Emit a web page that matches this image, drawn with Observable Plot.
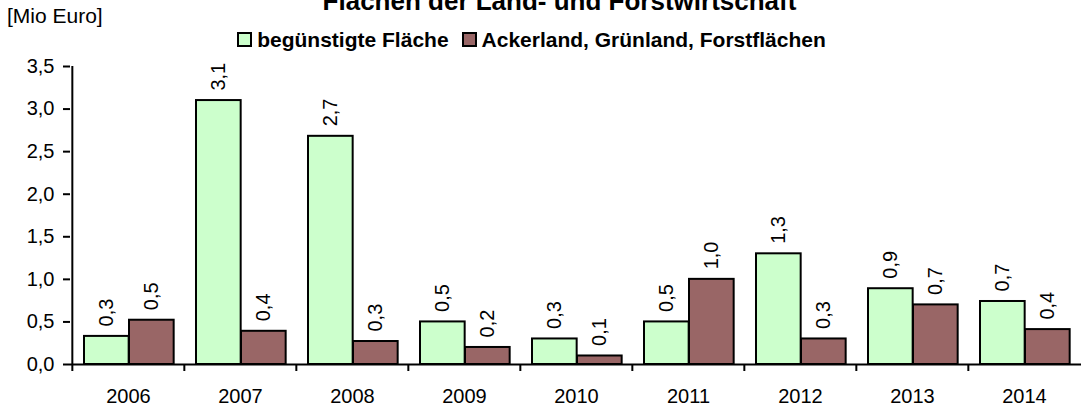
<!DOCTYPE html>
<html>
<head>
<meta charset="utf-8">
<script src="https://cdn.jsdelivr.net/npm/d3@7"></script>
<script src="https://cdn.jsdelivr.net/npm/@observablehq/plot@0.6"></script>
<style>
  html, body { margin: 0; padding: 0; background: #fff; overflow: hidden; }
  #wrap { position: relative; width: 1081px; height: 405px; font-family: "Liberation Sans", Arial, sans-serif; }
  #title { position: absolute; left: 0; width: 1081px; top: -12px; text-align: center; padding-left: 38px; box-sizing: border-box;
           font-weight: bold; font-size: 26px; line-height: 26px; color: #000; white-space: nowrap; z-index: 2; }
  #unit { position: absolute; left: 7px; top: 5px; font-size: 21px; line-height: 21px; color: #000; z-index: 2; }
  #legend { position: absolute; left: -9px; width: 1081px; top: 29px; text-align: center; box-sizing: border-box;
            font-weight: bold; font-size: 21px; line-height: 21px; color: #000; white-space: nowrap; z-index: 2; }
  .sw { display: inline-block; width: 11px; height: 11px; border: 2px solid #000; vertical-align: 0px; margin-right: 5px; }
  .item { margin: 0 6.5px; }
  #chart { position: absolute; left: 0; top: 0; z-index: 1; }
</style>
</head>
<body>
<div id="wrap">
  <div id="title">Flächen der Land- und Forstwirtschaft</div>
  <div id="unit">[Mio Euro]</div>
  <div id="legend"></div>
  <div id="chart"></div>
</div>
<script>
const years = ["2006", "2007", "2008", "2009", "2010", "2011", "2012", "2013", "2014"];
const seriesNames = ["begünstigte Fläche", "Ackerland, Grünland, Forstflächen"];
const seriesColors = ["#CCFFCC", "#996666"];
const beguenstigt = [0.33, 3.10, 2.68, 0.50, 0.30, 0.50, 1.30, 0.89, 0.74];
const ackerland   = [0.52, 0.39, 0.27, 0.20, 0.10, 1.00, 0.30, 0.70, 0.41];
const yTicks = [0, 0.5, 1.0, 1.5, 2.0, 2.5, 3.0, 3.5];

const fmt = v => v.toFixed(1).replace(".", ",");

const rowsA = years.map((y, i) => ({year: y, value: beguenstigt[i]}));
const rowsB = years.map((y, i) => ({year: y, value: ackerland[i]}));

// legend
const legend = document.getElementById("legend");
legend.innerHTML = seriesNames.map((n, i) =>
  `<span class="item"><span class="sw" style="background:${seriesColors[i]}"></span>${n}</span>`).join("");

const W = 1081, H = 405, mL = 70, mR = 0, mT = 66, mB = 41;
const bw = (W - mL - mR) / years.length;

const chart = Plot.plot({
  width: W,
  height: H,
  marginLeft: mL,
  marginRight: mR,
  marginTop: mT,
  marginBottom: mB,
  style: {fontFamily: "'Liberation Sans', Arial, sans-serif", fontSize: "20px", color: "#000", background: "transparent", overflow: "visible"},
  x: {domain: years, padding: 0, label: null},
  y: {domain: [0, 3.5], label: null},
  marks: [
    Plot.barY(rowsA, {x: "year", y: "value", fill: seriesColors[0], stroke: "#000", strokeWidth: 2,
      insetLeft: 12, insetRight: bw - 57}),
    Plot.barY(rowsB, {x: "year", y: "value", fill: seriesColors[1], stroke: "#000", strokeWidth: 2,
      insetLeft: 57, insetRight: bw - 102}),
    Plot.text(rowsA, {x: "year", y: "value", text: d => fmt(d.value), rotate: -90, textAnchor: "start",
      dx: 34.5 - bw / 2, dy: -10, fontSize: 20, fill: "#000"}),
    Plot.text(rowsB, {x: "year", y: "value", text: d => fmt(d.value), rotate: -90, textAnchor: "start",
      dx: 79.5 - bw / 2, dy: -10, fontSize: 20, fill: "#000"}),
    Plot.ruleY([0], {stroke: "#000", strokeWidth: 2}),
    Plot.ruleX([years[0]], {y1: 0, y2: 3.5, dx: -bw / 2, stroke: "#000", strokeWidth: 2}),
    Plot.ruleX(years, {x: d => d, y1: 0, y2: 0, dx: -bw / 2, insetBottom: -7, stroke: "#000", strokeWidth: 2}),
    Plot.axisY({ticks: yTicks, tickFormat: fmt, tickSize: 7, tickPadding: 9, strokeWidth: 2, fontSize: 20}),
    Plot.axisX({tickSize: 0, tickPadding: 24, fontSize: 20})
  ]
});
document.getElementById("chart").appendChild(chart);
</script>
</body>
</html>
